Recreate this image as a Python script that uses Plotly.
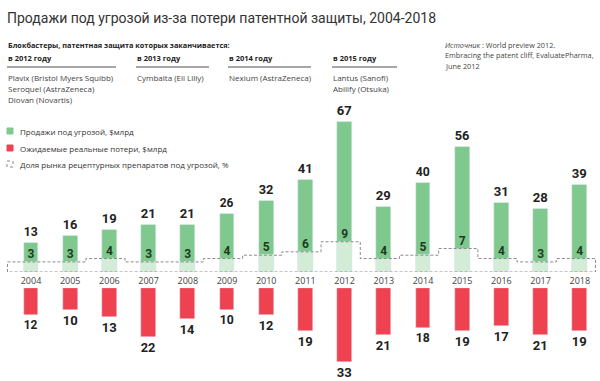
import plotly.graph_objects as go

# ---------------- data ----------------
years = [2004, 2005, 2006, 2007, 2008, 2009, 2010, 2011, 2012, 2013, 2014, 2015, 2016, 2017, 2018]
sales_at_risk = [13, 16, 19, 21, 21, 26, 32, 41, 67, 29, 40, 56, 31, 28, 39]
expected_losses = [12, 10, 13, 22, 14, 10, 12, 19, 33, 21, 18, 19, 17, 21, 19]
market_share = [3, 3, 4, 3, 3, 4, 5, 6, 9, 4, 5, 7, 4, 3, 4]

title_text = "Продажи под угрозой из-за потери патентной защиты, 2004-2018"
header_text = "Блокбастеры, патентная защита которых заканчивается:"
expiry_labels = ["в 2012 году", "в 2013 году", "в 2014 году", "в 2015 году"]
expiry_drugs = [
    ["Plavix (Bristol Myers Squibb)", "Seroquel (AstraZeneca)", "Diovan (Novartis)"],
    ["Cymbalta (Eli Lilly)"],
    ["Nexium (AstraZeneca)"],
    ["Lantus (Sanofi)", "Abilify (Otsuka)"],
]
source_lines = ["<i>Источник</i> : World preview 2012.",
                "Embracing the patent cliff, EvaluatePharma,",
                "June 2012"]
legend_labels = ["Продажи под угрозой, $млрд",
                 "Ожидаемые реальные потери, $млрд",
                 "Доля рынка рецептурных препаратов под угрозой, %"]

# ---------------- style ----------------
W, H = 600, 381
GREEN = "#80c98e"
LIGHT_GREEN = "#d2ecd6"
RED = "#ee4250"
DASH = "#8a8a8a"
TXT = "#222222"
FONT = "Open Sans"
SHARE_SCALE = 1.5  # value units per percentage point for the share steps


def px(x, y):
    return x / W, 1 - y / H


light_heights = [s * SHARE_SCALE for s in market_share]

fig = go.Figure()

# green bars (full value)
fig.add_trace(go.Bar(
    x=years, y=sales_at_risk, marker_color=GREEN, width=0.38,
    text=[str(v) for v in sales_at_risk], textposition="outside",
    textfont=dict(family="Roboto", size=15, color=TXT, weight="bold"),
    cliponaxis=False, xaxis="x", yaxis="y", showlegend=False))
# light part below share line
fig.add_trace(go.Bar(
    x=years, y=light_heights, marker_color=LIGHT_GREEN, width=0.38,
    xaxis="x", yaxis="y", showlegend=False, hoverinfo="skip"))

# step dashed outline for market share
sx = [years[0] - 0.6]
sy = [0]
for yr, h in zip(years, light_heights):
    sx.append(yr - 0.6)
    sy.append(h)
sx += [years[-1] + 0.4, years[-1] + 0.4, years[0] - 0.6]
sy += [light_heights[-1], 0, 0]
fig.add_trace(go.Scatter(
    x=sx, y=sy, mode="lines", line=dict(color=DASH, width=1, dash="3px,2px", shape="hv"),
    xaxis="x", yaxis="y", showlegend=False, hoverinfo="skip", cliponaxis=False))

# share labels
fig.add_trace(go.Scatter(
    x=years, y=[h + 3.1 for h in light_heights], mode="text",
    text=[str(s) for s in market_share],
    textfont=dict(family="Roboto", size=12, color="#1d3a22", weight="bold"),
    xaxis="x", yaxis="y", showlegend=False, hoverinfo="skip", cliponaxis=False))

# red bars
fig.add_trace(go.Bar(
    x=years, y=expected_losses, marker_color=RED, width=0.38,
    text=[str(v) for v in expected_losses], textposition="outside",
    textfont=dict(family="Roboto", size=15, color=TXT, weight="bold"),
    cliponaxis=False, xaxis="x2", yaxis="y2", showlegend=False))

xr = [years[0] - 31 / 39.2, years[0] + (600 - 31) / 39.2]
scale = 2.24  # px per unit
top_base = 272
top_max = 80
bot_top = 288
bot_max = 40

fig.update_layout(
    width=W, height=H, margin=dict(l=0, r=0, t=0, b=0),
    paper_bgcolor="white", plot_bgcolor="rgba(0,0,0,0)",
    barmode="overlay", bargap=0,
    font=dict(family=FONT, color=TXT),
    xaxis=dict(range=xr, tickvals=years, ticktext=[str(y) for y in years],
               showgrid=False, zeroline=False, showline=False, ticks="",
               tickfont=dict(family=FONT, size=9, color="#444"),
               anchor="y", ticklabelstandoff=2),
    yaxis=dict(range=[0, top_max], domain=[(H - top_base) / H, (H - top_base + top_max * scale) / H],
               visible=False),
    xaxis2=dict(range=xr, visible=False, anchor="y2", matches="x"),
    yaxis2=dict(range=[bot_max, 0], domain=[(H - bot_top - bot_max * scale) / H, (H - bot_top) / H],
                visible=False),
)

ann = []
shapes = []


def text(x, y, t, size, bold=False, color=TXT, family=FONT):
    xx, yy = px(x, y)
    ann.append(dict(x=xx, y=yy, xref="paper", yref="paper", text=("<b>%s</b>" % t) if bold else t,
                    showarrow=False, xanchor="left", yanchor="middle",
                    font=dict(size=size, color=color, family=family)))


# title
text(5, 18, title_text, 14, color="#333", family="Roboto")
# header
text(6, 45, header_text, 7.3, bold=True)
col_x = [6, 135, 227, 331]
line_w = [109, 73, 83, 65]
for cx, lw, lab, drugs in zip(col_x, line_w, expiry_labels, expiry_drugs):
    text(cx, 58, lab, 7.5, bold=True)
    x0, y0 = px(cx + 1, 67)
    x1, _ = px(cx + 1 + lw, 67)
    shapes.append(dict(type="line", xref="paper", yref="paper", x0=x0, x1=x1, y0=y0, y1=y0,
                       line=dict(color="#8a8a8a", width=1.5)))
    for i, d in enumerate(drugs):
        text(cx, 77 + 11 * i, d, 8, color="#444")
# source
for i, s in enumerate(source_lines):
    text(443, 45 + 10.5 * i, s, 7.3, color="#444")

# legend
leg_y = [131, 148, 164]
leg_fill = [GREEN, RED, "white"]
for ly, lf, lt in zip(leg_y, leg_fill, legend_labels):
    x0, y0 = px(7, ly - 3)
    x1, y1 = px(13, ly + 3)
    shapes.append(dict(type="rect", xref="paper", yref="paper", x0=x0, x1=x1, y0=y0, y1=y1,
                       fillcolor=lf, line=dict(color=DASH if lf == "white" else lf, width=1,
                                               dash="dot" if lf == "white" else "solid")))
    text(18, ly, lt, 8, color="#333")

fig.update_layout(annotations=ann, shapes=shapes)
fig.write_html("out.html", config={"displayModeBar": False},
               post_script="document.body.style.margin='0';")
